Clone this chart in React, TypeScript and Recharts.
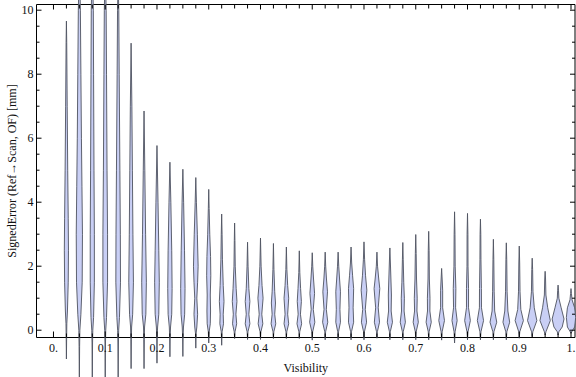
import { ComposedChart, Scatter, XAxis, YAxis } from 'recharts';

// violin centres on the Visibility axis
const positions = [
    0.025, 0.05, 0.075, 0.1, 0.125, 0.15, 0.175, 0.2, 0.225, 0.25,
    0.275, 0.3, 0.325, 0.35, 0.375, 0.4, 0.425, 0.45, 0.475, 0.5,
    0.525, 0.55, 0.575, 0.6, 0.625, 0.65, 0.675, 0.7, 0.725, 0.75,
    0.775, 0.8, 0.825, 0.85, 0.875, 0.9, 0.925, 0.95, 0.975, 1.0,
];

// lower / upper tail end of each violin [mm]
const lows = [
    -0.9, -1.6, -1.6, -1.6, -1.5, -1.2, -1.2, -1.03, -0.83, -0.82,
    -0.56, -0.4, -0.47, -0.26, -0.29, -0.29, -0.26, -0.26, -0.26, -0.31,
    -0.3, -0.3, -0.3, -0.3, -0.25, -0.3, -0.3, -0.3, -0.3, -0.31,
    -0.4, -0.3, -0.3, -0.3, -0.3, -0.25, -0.2, -0.15, -0.15, -0.1,
];
const highs = [
    9.66, 11.5, 11.5, 11.3, 11.0, 8.97, 6.85, 5.77, 5.25, 5.03,
    4.77, 4.4, 3.63, 3.35, 2.75, 2.88, 2.71, 2.6, 2.48, 2.42,
    2.44, 2.44, 2.6, 2.76, 2.44, 2.57, 2.74, 2.99, 3.09, 1.93,
    3.7, 3.65, 3.47, 2.84, 2.73, 2.63, 2.25, 1.84, 1.41, 1.3,
];

// density knots [error, density] between the tails, bottom -> top
const profiles: number[][][] = [
    [[-0.3, 0.4], [0.2, 0.8], [0.6, 2], [1.5, 3.5], [2.5, 4], [3.5, 3.5], [5, 2.5], [7, 1.5], [9, 0.6]],
    [[-0.5, 0.5], [0, 1], [0.5, 3], [1.5, 5.5], [3, 6], [4.5, 5], [6, 4], [8, 3], [10, 2]],
    [[-0.4, 0.5], [0, 1], [0.4, 2.5], [1.5, 4], [3, 4], [5, 3.3], [8, 2.5], [10, 2]],
    [[-0.4, 0.5], [0, 1], [0.4, 2.5], [1.5, 4.5], [3, 4.5], [5, 3.5], [8, 2.5], [10, 1.8]],
    [[-0.4, 0.5], [0, 1], [0.4, 2.5], [1.5, 4.5], [3, 4.2], [5, 3.3], [8, 2], [10, 1.2]],
    [[-0.3, 0.5], [0.1, 1], [0.5, 3], [1.5, 4.5], [3, 3.5], [5, 2.5], [7, 1.5]],
    [[-0.3, 0.5], [0.1, 1], [0.5, 3.5], [1.5, 4.5], [3, 3], [5, 1.5]],
    [[-0.2, 0.5], [0.1, 1.2], [0.5, 3.5], [1.5, 4.5], [2.5, 3.5], [4, 2]],
    [[-0.2, 0.5], [0.1, 1.2], [0.5, 3.5], [1.3, 4.2], [2.5, 3.5], [4, 1.8]],
    [[-0.2, 0.5], [0.1, 1.2], [0.5, 3.5], [1.3, 4.2], [2.5, 3.2], [4, 1.5]],
    [[-0.1, 0.6], [0.1, 2], [0.5, 3.5], [1, 2], [1.5, 3.5], [2, 4.5], [3, 3], [4, 1.2]],
    [[-0.05, 0.8], [0.2, 3], [0.6, 3.5], [1.1, 3], [1.7, 4], [2.3, 3.5], [3, 2], [3.8, 0.8]],
    [[-0.05, 0.8], [0.2, 3.5], [0.5, 3], [0.9, 4.5], [1.4, 3], [2.2, 1.5], [3, 0.8]],
    [[-0.05, 0.8], [0.2, 4], [0.5, 2.5], [0.9, 4.5], [1.3, 3], [2, 1.2], [2.8, 0.6]],
    [[-0.05, 0.8], [0.2, 4.5], [0.5, 2.5], [0.9, 4.5], [1.3, 2.5], [2, 1]],
    [[-0.05, 0.8], [0.2, 4.5], [0.5, 2.5], [1.0, 5], [1.4, 3], [2, 1.2]],
    [[-0.05, 0.8], [0.2, 4.5], [0.5, 2.5], [0.85, 4], [1.2, 2.5], [1.9, 1]],
    [[-0.05, 0.8], [0.2, 4.5], [0.5, 2.5], [1.0, 4.5], [1.4, 2.5], [1.9, 1]],
    [[-0.05, 0.8], [0.2, 4.5], [0.5, 2.2], [0.9, 4], [1.3, 2.5], [1.8, 1]],
    [[-0.05, 0.8], [0.25, 5], [0.65, 2], [1.15, 4.5], [1.6, 2.5], [2, 1]],
    [[-0.05, 0.8], [0.25, 5], [0.65, 2.2], [1.2, 4.5], [1.6, 2.5], [2, 1]],
    [[-0.05, 0.8], [0.25, 4.5], [0.65, 3.5], [1.2, 4.5], [1.6, 2.8], [2, 1.2]],
    [[-0.05, 0.8], [0.25, 5], [0.7, 4], [1.3, 5], [1.7, 3], [2.1, 1.2]],
    [[-0.05, 0.8], [0.25, 5], [0.65, 2.5], [1.25, 5.5], [1.7, 3], [2.2, 1.2]],
    [[-0.05, 0.8], [0.25, 5], [0.7, 2.5], [1.3, 5.5], [1.6, 3.5], [2, 1.2]],
    [[-0.05, 0.8], [0.25, 5], [0.6, 2.5], [1.1, 3], [1.6, 2], [2.1, 1]],
    [[-0.05, 0.8], [0.25, 5], [0.6, 2.5], [1.0, 3], [1.5, 1.8], [2.2, 0.8]],
    [[-0.05, 0.8], [0.25, 5], [0.6, 2.3], [1.0, 2.8], [1.6, 1.5], [2.4, 0.8]],
    [[-0.05, 0.8], [0.25, 5], [0.6, 2.3], [1.0, 2.5], [1.6, 1.3], [2.5, 0.8]],
    [[-0.05, 1], [0.3, 5.5], [0.7, 2], [1.25, 2], [1.6, 1]],
    [[-0.05, 1], [0.3, 5], [0.7, 2], [1.3, 2.5], [2, 1.2], [3, 0.8]],
    [[-0.05, 1], [0.3, 5.5], [0.7, 2], [1.3, 2], [2, 1], [3, 0.8]],
    [[-0.05, 1], [0.3, 6], [0.7, 2], [1.3, 1.8], [2.2, 1], [3, 0.7]],
    [[-0.05, 1], [0.25, 6.5], [0.6, 2.5], [1.2, 1.5], [2.2, 0.8]],
    [[-0.05, 1], [0.25, 6.5], [0.6, 3], [1.2, 1.5], [2.2, 0.8]],
    [[-0.05, 1], [0.3, 8], [0.65, 3], [1.2, 1.5], [2.1, 0.8]],
    [[-0.05, 1.2], [0.3, 9], [0.7, 4], [1.2, 1.5], [1.9, 0.8]],
    [[-0.05, 1.5], [0.3, 10], [0.7, 5], [1.1, 1.5], [1.6, 0.8]],
    [[-0.05, 1.5], [0.1, 8], [0.35, 11.5], [0.7, 6], [1.0, 1.5], [1.25, 0.8]],
    [[-0.05, 1.5], [0.1, 7], [0.4, 9], [0.7, 7], [0.95, 2], [1.15, 0.8]],
];

const xMajorTicks = [0, 0.1, 0.2, 0.3, 0.4, 0.5, 0.6, 0.7, 0.8, 0.9, 1];
const xTickLabels = ['0.', '0.1', '0.2', '0.3', '0.4', '0.5', '0.6', '0.7', '0.8', '0.9', '1.'];
const yMajorTicks = [0, 2, 4, 6, 8, 10];
const yTickLabels = ['0', '2', '4', '6', '8', '10'];

const xTicks = Array.from({ length: 41 }, (_, i) => i * 0.025);
const yTicks = Array.from({ length: 21 }, (_, i) => i * 0.5);

const X_DOMAIN: [number, number] = [-0.0328, 1.0077];
const Y_DOMAIN: [number, number] = [-0.228, 10.178];

// density unit -> half width on the x axis
const WIDTH_SCALE = 0.001;
const FONT = '"Liberation Serif", "Times New Roman", serif';
const FILL = '#c9cff5';
const EDGE = '#4f5360';

// closed outline: bottom tip, right side up, top tip, left side down
const violins = positions.map((cx, i) => {
    const knots = [[lows[i], 0], ...profiles[i], [highs[i], 0]];
    const right = knots.map(([y, w]) => ({ x: cx + w * WIDTH_SCALE, y }));
    const left = knots
        .slice(1, -1)
        .reverse()
        .map(([y, w]) => ({ x: cx - w * WIDTH_SCALE, y }));
    return [...right, ...left];
});

function majorIndex(v: number, list: number[]) {
    return list.findIndex((m) => Math.abs(m - v) < 1e-6);
}

/* eslint-disable @typescript-eslint/no-explicit-any */
function ViolinOutline(props: any) {
    const pts = props.points || [];
    if (!pts.length) return <g />;
    const d = pts.map((p: any, i: number) => `${i ? 'L' : 'M'}${p.x},${p.y}`).join('') + 'Z';
    return <path d={d} fill={FILL} stroke={EDGE} strokeOpacity={0.9} strokeWidth={1} strokeLinejoin="round" />;
}

const NoDot = () => <g />;

function BottomTick({ x, y, payload }: any) {
    const k = majorIndex(payload.value, xMajorTicks);
    return (
        <g>
            <line x1={x} x2={x} y1={y} y2={y - (k >= 0 ? 6 : 4)} stroke="#000" />
            {k >= 0 && (
                <text x={x} y={y + 14} textAnchor="middle" fontSize={12} fontFamily={FONT} fill="#111">
                    {xTickLabels[k]}
                </text>
            )}
        </g>
    );
}

function TopTick({ x, y, payload }: any) {
    const k = majorIndex(payload.value, xMajorTicks);
    return <line x1={x} x2={x} y1={y} y2={y + (k >= 0 ? 5 : 4)} stroke="#000" />;
}

function LeftTick({ x, y, payload }: any) {
    const k = majorIndex(payload.value, yMajorTicks);
    return (
        <g>
            <line x1={x} x2={x + (k >= 0 ? 5 : 3)} y1={y} y2={y} stroke="#000" />
            {k >= 0 && (
                <text x={x - 3} y={y + 4} textAnchor="end" fontSize={12} fontFamily={FONT} fill="#111">
                    {yTickLabels[k]}
                </text>
            )}
        </g>
    );
}

function RightTick({ x, y, payload }: any) {
    const k = majorIndex(payload.value, yMajorTicks);
    return <line x1={x} x2={x - (k >= 0 ? 5 : 3)} y1={y} y2={y} stroke="#000" />;
}

function XTitle({ viewBox }: any) {
    return (
        <text x={viewBox.x + viewBox.width / 2} y={viewBox.y + 34} textAnchor="middle" fontSize={12} fontFamily={FONT} fill="#111">
            Visibility
        </text>
    );
}

function YTitle({ viewBox }: any) {
    const cx = 12;
    const cy = viewBox.y + viewBox.height / 2;
    return (
        <text
            x={cx}
            y={cy}
            transform={`rotate(-90 ${cx} ${cy})`}
            textAnchor="middle"
            dominantBaseline="central"
            fontSize={12}
            fontFamily={FONT}
            fill="#111"
        >
            SignedError (Ref→Scan, OF) [mm]
        </text>
    );
}

export default function App() {
    return (
        <div style={{ position: 'absolute', left: 0, top: 0, width: 576, height: 377, background: '#fff' }}>
            <style>{`.recharts-wrapper [clip-path], .recharts-scatter { clip-path: none !important; }`}</style>
            <ComposedChart width={576} height={377} margin={{ top: 3.5, right: 0, bottom: 0, left: 0 }}>
                <XAxis
                    type="number"
                    dataKey="x"
                    domain={X_DOMAIN}
                    allowDataOverflow
                    ticks={xTicks}
                    interval={0}
                    height={39.5}
                    tickSize={0}
                    tickMargin={0}
                    tickLine={false}
                    axisLine={{ stroke: '#000' }}
                    tick={<BottomTick />}
                    label={{ content: <XTitle /> }}
                />
                <XAxis
                    xAxisId="top"
                    orientation="top"
                    type="number"
                    dataKey="x"
                    domain={X_DOMAIN}
                    allowDataOverflow
                    ticks={xTicks}
                    interval={0}
                    height={1}
                    tickSize={0}
                    tickMargin={0}
                    tickLine={false}
                    axisLine={{ stroke: '#000' }}
                    tick={<TopTick />}
                />
                <YAxis
                    type="number"
                    dataKey="y"
                    domain={Y_DOMAIN}
                    allowDataOverflow
                    ticks={yTicks}
                    interval={0}
                    width={36.5}
                    tickSize={0}
                    tickMargin={0}
                    tickLine={false}
                    axisLine={{ stroke: '#000' }}
                    tick={<LeftTick />}
                    label={{ content: <YTitle /> }}
                />
                <YAxis
                    yAxisId="right"
                    orientation="right"
                    type="number"
                    dataKey="y"
                    domain={Y_DOMAIN}
                    allowDataOverflow
                    ticks={yTicks}
                    interval={0}
                    width={1}
                    tickSize={0}
                    tickMargin={0}
                    tickLine={false}
                    axisLine={{ stroke: '#000' }}
                    tick={<RightTick />}
                />
                {violins.map((pts, i) => (
                    <Scatter
                        key={i}
                        data={pts}
                        line={ViolinOutline}
                        lineType="joint"
                        shape={NoDot}
                        legendType="none"
                        isAnimationActive={false}
                    />
                ))}
            </ComposedChart>
        </div>
    );
}
